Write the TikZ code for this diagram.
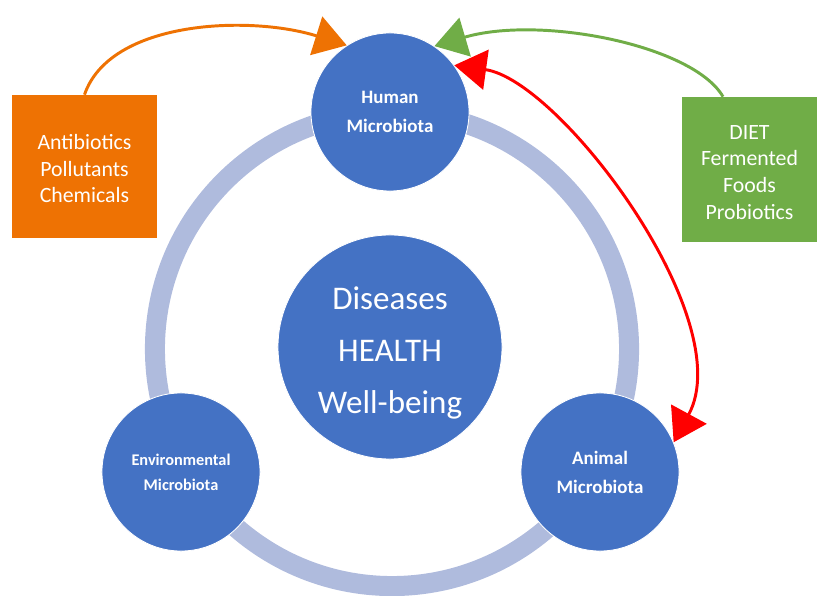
\documentclass[tikz,border=0pt]{standalone}
\usepackage{fontspec}
\setmainfont{Carlito}
\usetikzlibrary{arrows.meta}
\definecolor{micblue}{HTML}{4472C4}
\definecolor{ringblue}{HTML}{AFBBDD}
\definecolor{boxorange}{HTML}{EE7203}
\definecolor{boxgreen}{HTML}{70AD47}

\begin{document}
\begin{tikzpicture}[x=0.025cm,y=-0.025cm,
  >={Triangle[length=0.8cm,width=1cm]},
  micro/.style={circle,fill=micblue,draw=white,line width=0.6pt,text=white,align=center,
    font=\bfseries\fontsize{13.5}{20.6}\selectfont,minimum size=3.95cm,inner sep=0pt},
  factor/.style={fill=#1,text=white,align=center,inner sep=0pt,
    font=\fontsize{15.5}{19}\selectfont},
  link/.style={draw=#1,line width=2.1pt,->}]
  \useasboundingbox (0,0) rectangle (817,596);
  \draw[ringblue,line width=0.5cm] (392,349) circle[radius=5.925cm];
  \node[micro] (human) at (390,112) {Human\\Microbiota};
  \node[micro,font=\bfseries\fontsize{11.6}{17.7}\selectfont] (env) at (181,472) {Environmental\\Microbiota};
  \node[micro] (animal) at (600,472) {Animal\\Microbiota};
  \node[micro,minimum size=5.6cm,font=\fontsize{23.5}{37}\selectfont] (health) at (390,347) {\rule{0pt}{24pt}Diseases\\HEALTH\\Well-being};
  \node[factor=boxorange,minimum width=3.625cm,minimum height=3.575cm] (threats) at (84.5,166.5) {\rule{0pt}{14pt}Antibiotics\\Pollutants\\Chemicals};
  \node[factor=boxgreen,minimum width=3.375cm,minimum height=3.625cm] (diet) at (749.5,169.5) {\rule{0pt}{14pt}DIET\\Fermented\\Foods\\Probiotics};
  \draw[link=boxorange] (threats.north) .. controls (110,20) and (250,15) .. (human.123);
  \draw[link=boxgreen] (diet.110) .. controls (693,45) and (540,15) .. (human.56);
  \draw[link=red,<->] (human.36) .. controls (560,80) and (740,320) .. (animal.22);
\end{tikzpicture}
\end{document}
